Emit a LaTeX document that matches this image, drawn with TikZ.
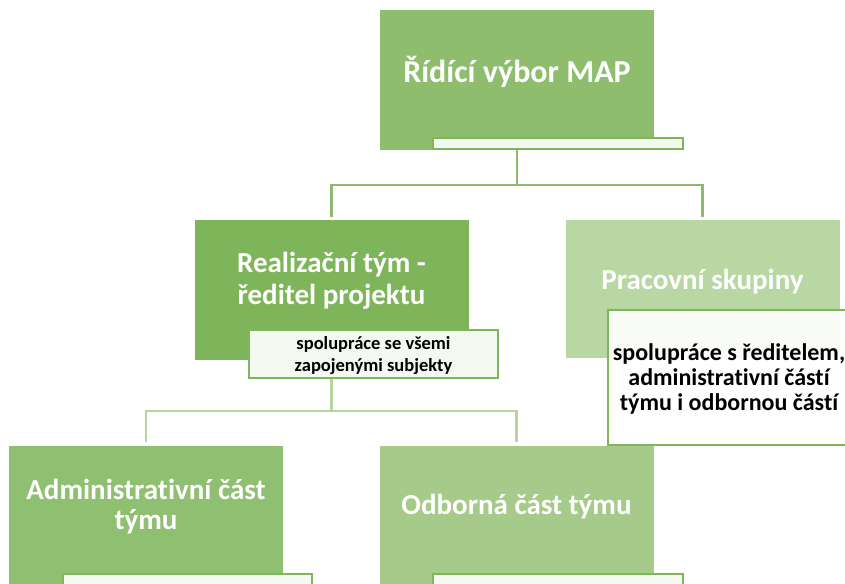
\documentclass[tikz,border=0pt]{standalone}
\usepackage{fontspec}
\setmainfont{Carlito}[Ligatures=NoCommon]
\usepackage{tikz}
\definecolor{ridicicol}{HTML}{8EBE6D}
\definecolor{realizcol}{HTML}{7FB55A}
\definecolor{praccol}{HTML}{B8D7A3}
\definecolor{admincol}{HTML}{8FBF70}
\definecolor{odbcol}{HTML}{A6CA8A}
\definecolor{topline}{HTML}{8DBB6E}
\definecolor{lowline}{HTML}{B5D49F}
\definecolor{subedge}{HTML}{80B55C}
\definecolor{subfill}{HTML}{F3F8F0}
\tikzstyle{mainbox} = [rectangle, inner sep=0pt, minimum width=274pt, minimum height=140pt]
\tikzstyle{subbox} = [rectangle, draw=subedge, line width=2pt, fill=subfill, inner sep=0pt, align=center]
\tikzstyle{boxtext} = [align=center, text=white, inner sep=0pt]
\tikzstyle{conn} = [line width=2.5pt]

\begin{document}
\begin{tikzpicture}[x=1pt, y=-1pt, font=\bfseries]
  \useasboundingbox (0,0) rectangle (845,583);
  \clip (0,0) rectangle (845,583);
  % level 1
  \path[] node[mainbox, fill=ridicicol, label={[boxtext, font=\fontsize{32}{38}\selectfont\bfseries, yshift=8pt]center:Řídící výbor MAP}] (ridici) at (517,80) {};
  \path[] node[subbox, minimum width=250pt, minimum height=11pt] (ridicisub) at (558,143.5) {};
  % level 2
  \path[] node[mainbox, fill=realizcol, label={[boxtext, font=\fontsize{29}{32}\selectfont\bfseries, yshift=9pt]center:Realizační tým -\\ředitel projektu}] (realiz) at (331.5,290) {};
  \path[] node[subbox, minimum width=249pt, minimum height=48pt, label={[align=center, inner sep=0pt, font=\fontsize{18.5}{22}\selectfont\bfseries, yshift=-2pt]center:spolupráce se všemi\\zapojenými subjekty}] (realizsub) at (373.5,354) {};
  \path[] node[mainbox, fill=praccol, minimum height=138pt, label={[boxtext, font=\fontsize{29}{32}\selectfont\bfseries, yshift=7pt]center:Pracovní skupiny}] (prac) at (702.5,289) {};
  \path[] node[subbox, fill=white, fill opacity=0.92, draw opacity=1, minimum width=242pt, minimum height=135pt, label={[align=center, inner sep=0pt, font=\fontsize{24}{25}\selectfont\bfseries, yshift=-1.5pt]center:spolupráce s ředitelem,\\administrativní částí\\týmu i odbornou částí}] (pracsub) at (729,377.5) {};
  % level 3
  \path[] node[mainbox, fill=admincol, label={[boxtext, font=\fontsize{29}{30}\selectfont\bfseries, yshift=9pt]center:Administrativní část\\týmu}] (admin) at (146,516) {};
  \path[] node[subbox, minimum width=249pt, minimum height=48pt] (adminsub) at (187.5,598) {};
  \path[] node[mainbox, fill=odbcol, label={[boxtext, font=\fontsize{29}{32}\selectfont\bfseries, yshift=9pt]center:Odborná část týmu}] (odb) at (516.5,516) {};
  \path[] node[subbox, minimum width=250pt, minimum height=48pt] (odbsub) at (558,598) {};
  % connectors
  \coordinate (fork1) at (517,185);
  \coordinate (fork2) at (331.5,411);
  \draw[conn, topline] (ridici.south) -- (fork1);
  \draw[conn, topline] (fork1) -| ([yshift=3pt]realiz.north);
  \draw[conn, topline] (fork1) -| ([yshift=3pt]prac.north);
  \draw[conn, lowline] (realiz.south |- realizsub.south) -- (fork2);
  \draw[conn, lowline] (fork2) -| ([yshift=4pt]admin.north);
  \draw[conn, lowline] (fork2) -| ([yshift=4pt]odb.north);
\end{tikzpicture}
\end{document}
